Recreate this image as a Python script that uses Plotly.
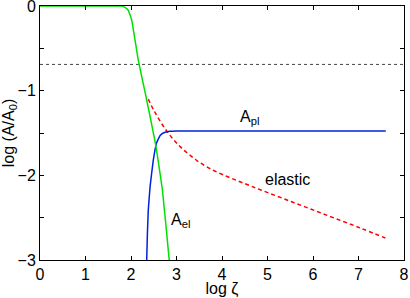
import plotly.graph_objects as go

# Data
green_x = [0.0, 1.6, 1.8, 1.85, 1.94, 2.015, 2.16, 2.31, 2.54, 2.69, 2.84, 2.87]
green_y = [0.0, 0.0, 0.0, -0.01, -0.05, -0.165, -0.64, -1.02, -1.63, -2.17, -3.0, -3.2]

blue_x = [2.335, 2.345, 2.36, 2.38, 2.42, 2.49, 2.56, 2.64, 2.71, 2.85, 3.0, 4.0, 5.0, 6.0, 7.0, 7.6]
blue_y = [-3.2, -3.0, -2.7, -2.41, -2.13, -1.82, -1.62, -1.53, -1.50, -1.48, -1.476, -1.476, -1.476, -1.476, -1.476, -1.476]

red_x = [2.38, 2.5, 2.75, 3.04, 3.41, 3.77, 4.14, 4.51, 4.84, 5.57, 6.30, 7.03, 7.59]
red_y = [-1.10, -1.23, -1.45, -1.64, -1.81, -1.93, -2.02, -2.10, -2.17, -2.32, -2.47, -2.62, -2.74]

dotted_x = [0, 8]
dotted_y = [-0.69, -0.69]

labels = [("A<sub>pl</sub>", 4.6, -1.32), ("elastic", 5.43, -2.05), ("A<sub>el</sub>", 3.08, -2.53)]

FONT = "Liberation Sans, Arial, sans-serif"
fig = go.Figure()
fig.add_trace(go.Scatter(x=dotted_x, y=dotted_y, mode="lines",
                         line=dict(color="#444444", width=1, dash="dot")))
fig.add_trace(go.Scatter(x=red_x, y=red_y, mode="lines",
                         line=dict(color="#ff0000", width=1.5, dash="4px,3px", shape="spline", smoothing=1.0)))
fig.add_trace(go.Scatter(x=blue_x, y=blue_y, mode="lines",
                         line=dict(color="#0022dd", width=1.5, shape="spline", smoothing=0.3)))
fig.add_trace(go.Scatter(x=green_x, y=green_y, mode="lines",
                         line=dict(color="#00e000", width=1.5, shape="spline", smoothing=0.3)))

for text, x, y in labels:
    fig.add_annotation(x=x, y=y, text=text, showarrow=False,
                       font=dict(family=FONT, size=16, color="black"))

axis_common = dict(showline=True, linecolor="black", linewidth=1, mirror="ticks",
                   ticks="inside", ticklen=4, tickcolor="black", showgrid=False,
                   zeroline=False, automargin=False, ticklabeloverflow="allow",
                   tickfont=dict(family=FONT, size=16, color="black"))
fig.update_xaxes(range=[0, 8], dtick=1, tick0=0,
                 title=dict(text="log ζ", font=dict(family=FONT, size=16, color="black")),
                 **axis_common)
fig.update_yaxes(range=[-3, 0], dtick=1, tick0=0,
                 minor=dict(dtick=0.5, ticks="inside", ticklen=4, tickcolor="black"),
                 title=dict(text="log (A/A<sub>0</sub>)", font=dict(family=FONT, size=16, color="black")),
                 **axis_common)
fig.update_layout(width=410, height=298, margin=dict(l=40, r=6, t=6, b=38),
                  plot_bgcolor="white", paper_bgcolor="white", showlegend=False)
fig.write_html("out.html", config={"displayModeBar": False},
               post_script="document.body.style.margin='0';document.body.style.overflow='hidden';")
